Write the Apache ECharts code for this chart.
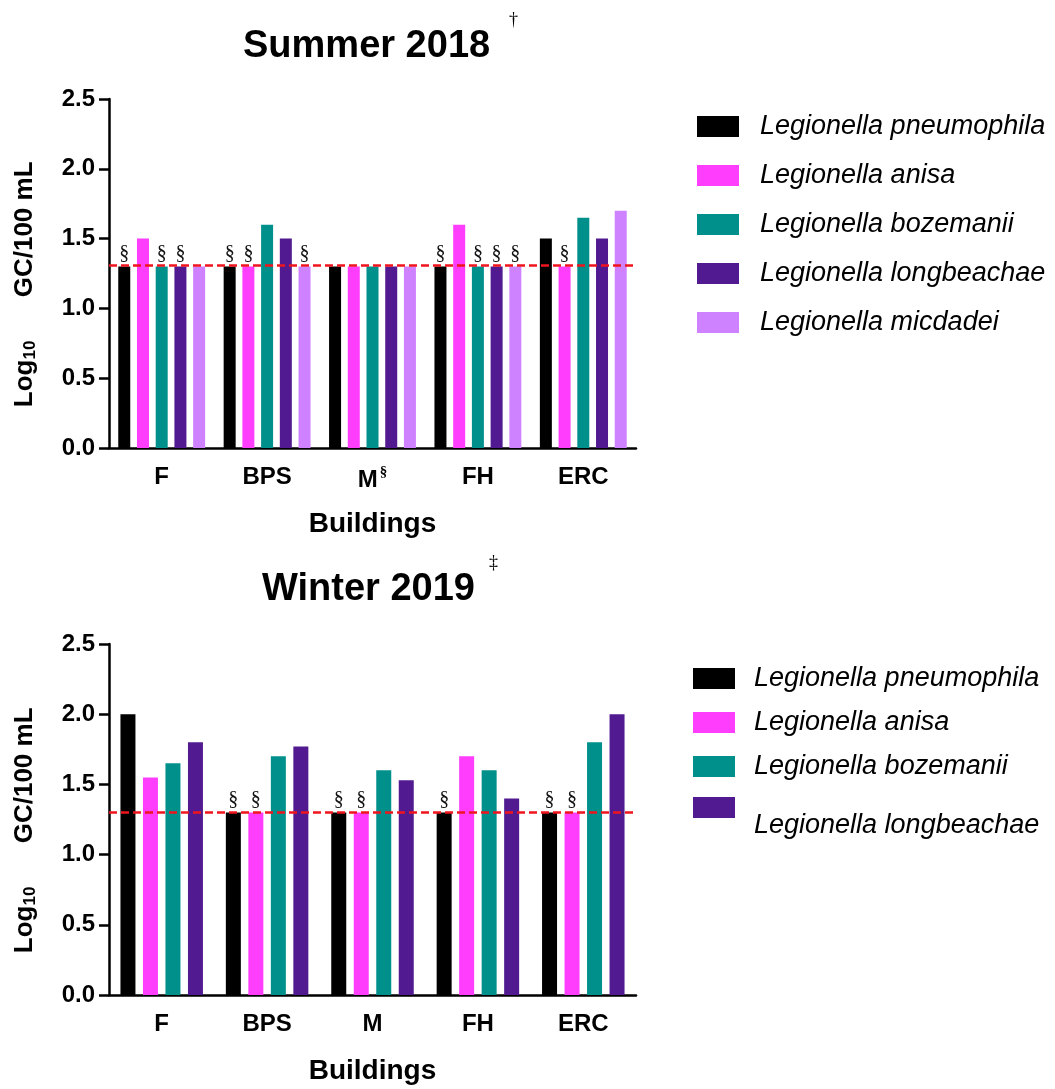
<!DOCTYPE html>
<html>
<head>
<meta charset="utf-8">
<script src="https://cdn.jsdelivr.net/npm/echarts@6/dist/echarts.min.js"></script>
<style>
html,body{margin:0;padding:0;background:#fff;}
#c{width:1055px;height:1089px;}
</style>
</head>
<body>
<div id="c"></div>
<script>
// ---- data ----
const buildings = ['F', 'BPS', 'M', 'FH', 'ERC'];
const summerCatMarks = ['', '', '§', '', ''];
const winterCatMarks = ['', '', '', '', ''];
const speciesNames = ['Legionella pneumophila', 'Legionella anisa', 'Legionella bozemanii', 'Legionella longbeachae', 'Legionella micdadei'];
const yTicks = [0, 0.5, 1.0, 1.5, 2.0, 2.5];

// Summer 2018 (Log10 GC/100 mL)
const summerPneumophila = [1.3, 1.3, 1.3, 1.3, 1.5];
const summerAnisa       = [1.5, 1.3, 1.3, 1.6, 1.3];
const summerBozemanii   = [1.3, 1.6, 1.3, 1.3, 1.65];
const summerLongbeachae = [1.3, 1.5, 1.3, 1.3, 1.5];
const summerMicdadei    = [1.3, 1.3, 1.3, 1.3, 1.7];
// § flags (below detection limit)
const summerPneumophilaND = [1, 1, 0, 1, 0];
const summerAnisaND       = [0, 1, 0, 0, 1];
const summerBozemaniiND   = [1, 0, 0, 1, 0];
const summerLongbeachaeND = [1, 0, 0, 1, 0];
const summerMicdadeiND    = [0, 1, 0, 1, 0];

// Winter 2019
const winterPneumophila = [2.0, 1.3, 1.3, 1.3, 1.3];
const winterAnisa       = [1.55, 1.3, 1.3, 1.7, 1.3];
const winterBozemanii   = [1.65, 1.7, 1.6, 1.6, 1.8];
const winterLongbeachae = [1.8, 1.77, 1.53, 1.4, 2.0];
const winterPneumophilaND = [0, 1, 1, 1, 1];
const winterAnisaND       = [0, 1, 1, 0, 1];
const winterBozemaniiND   = [0, 0, 0, 0, 0];
const winterLongbeachaeND = [0, 0, 0, 0, 0];

const summerLimit = 1.31;
const winterLimit = 1.3;

// ---- style ----
const colors = ['#000000', '#ff3dfc', '#00908c', '#521a90', '#cf82ff'];
const FONT = '"Liberation Sans", Arial, sans-serif';
const SERIF = '"Liberation Serif", "DejaVu Serif", serif';

function makeSeries(name, values, flags, color, gridIdx, barWidth, barGap, limit) {
  const s = {
    name: name,
    type: 'bar',
    xAxisIndex: gridIdx,
    yAxisIndex: gridIdx,
    data: values,
    barWidth: barWidth,
    barGap: barGap,
    itemStyle: { color: color },
    label: {
      show: true,
      position: 'top',
      distance: 3,
      fontFamily: SERIF,
      fontSize: 20,
      color: '#111',
      formatter: p => flags[p.dataIndex] ? '§' : ''
    },
    emphasis: { disabled: true }
  };
  if (limit !== undefined) {
    s.markLine = {
      silent: true,
      symbol: ['none', 'none'],
      label: { show: false },
      lineStyle: { color: '#f0141e', width: 2.5, type: [8, 4] },
      data: [{ yAxis: limit }],
      z: 10
    };
  }
  return s;
}

function xAxisDef(gridIdx, marks) {
  return {
    type: 'category',
    gridIndex: gridIdx,
    data: buildings,
    axisLine: { lineStyle: { color: '#000', width: 2.5 } },
    axisTick: { alignWithLabel: true, length: 10, lineStyle: { color: '#000', width: 2.5 } },
    axisLabel: {
      interval: 0,
      hideOverlap: false,
      margin: 17,
      fontFamily: FONT, fontSize: 24, fontWeight: 'bold', color: '#000',
      formatter: (v, i) => v + (marks[i] ? '{sup|' + marks[i] + '}' : ''),
      rich: { sup: { fontFamily: SERIF, fontSize: 15, color: '#000', verticalAlign: 'top', padding: [0, 0, 16, 2] } }
    },
    name: 'Buildings',
    nameLocation: 'middle',
    nameGap: 62,
    nameTextStyle: { fontFamily: FONT, fontSize: 28, fontWeight: 'bold', color: '#000' }
  };
}

function yAxisDef(gridIdx) {
  return {
    type: 'value',
    gridIndex: gridIdx,
    min: 0, max: 2.5, interval: 0.5,
    axisLine: { show: true, lineStyle: { color: '#000', width: 2.5 } },
    axisTick: { show: true, length: 10, lineStyle: { color: '#000', width: 2.5 } },
    splitLine: { show: false },
    axisLabel: {
      margin: 14,
      fontFamily: FONT, fontSize: 24, fontWeight: 'bold', color: '#000',
      formatter: v => yTicks.includes(v) ? v.toFixed(1) : ''
    },
    name: '{a|Log}{s|10}{a|      GC/100 mL   }',
    nameLocation: 'middle',
    nameRotate: 90,
    nameGap: 70,
    nameTextStyle: {
      rich: {
        a: { fontFamily: FONT, fontSize: 26, fontWeight: 'bold', color: '#000' },
        s: { fontFamily: FONT, fontSize: 17, fontWeight: 'bold', color: '#000', verticalAlign: 'bottom', padding: [12, 0, 0, 0] }
      }
    }
  };
}

const legendText = { fontFamily: FONT, fontSize: 27, fontStyle: 'italic', color: '#000', padding: [0, 0, 0, 16] };
const legendText2 = { fontFamily: FONT, fontSize: 27, fontStyle: 'italic', color: '#000', padding: [0, 0, 0, 14] };

const option = {
  animation: false,
  backgroundColor: '#fff',
  grid: [
    { left: 109, top: 99, width: 527, height: 349 },
    { left: 109, top: 644, width: 527, height: 351 }
  ],
  xAxis: [xAxisDef(0, summerCatMarks), xAxisDef(1, winterCatMarks)],
  yAxis: [yAxisDef(0), yAxisDef(1)],
  legend: [
    {
      orient: 'vertical', left: 692, top: 108,
      itemWidth: 42, itemHeight: 21, itemGap: 22,
      icon: 'rect',
      selectedMode: false,
      data: speciesNames,
      textStyle: legendText
    },
    {
      orient: 'vertical', left: 688, top: 660,
      itemWidth: 42, itemHeight: 21, itemGap: 17,
      icon: 'rect',
      selectedMode: false,
      data: speciesNames.slice(0, 3),
      textStyle: legendText2
    },
    {
      orient: 'vertical', left: 688, top: 771,
      itemWidth: 42, itemHeight: 21,
      icon: 'rect',
      selectedMode: false,
      data: [speciesNames[3]],
      formatter: n => '{t|' + n + '}',
      textStyle: {
        fontFamily: FONT, fontSize: 27, fontStyle: 'italic', color: '#000',
        rich: { t: { fontFamily: FONT, fontSize: 27, fontStyle: 'italic', color: '#000', lineHeight: 30, padding: [36, 0, 0, 14] } }
      }
    }
  ],
  graphic: [
    { type: 'text', style: { text: 'Summer 2018', font: 'bold 38px ' + FONT, fill: '#000' }, left: 243, top: 28 },
    { type: 'text', style: { text: '†', font: '18px ' + SERIF, fill: '#000' }, left: 509, top: 11 },
    { type: 'text', style: { text: 'Winter 2019', font: 'bold 38px ' + FONT, fill: '#000' }, left: 262, top: 571 },
    { type: 'text', style: { text: '‡', font: '18px ' + SERIF, fill: '#000' }, left: 489, top: 554 }
  ],
  series: [
    makeSeries(speciesNames[0], summerPneumophila, summerPneumophilaND, colors[0], 0, 12, '56%', summerLimit),
    makeSeries(speciesNames[1], summerAnisa, summerAnisaND, colors[1], 0, 12, '56%'),
    makeSeries(speciesNames[2], summerBozemanii, summerBozemaniiND, colors[2], 0, 12, '56%'),
    makeSeries(speciesNames[3], summerLongbeachae, summerLongbeachaeND, colors[3], 0, 12, '56%'),
    makeSeries(speciesNames[4], summerMicdadei, summerMicdadeiND, colors[4], 0, 12, '56%'),
    makeSeries(speciesNames[0], winterPneumophila, winterPneumophilaND, colors[0], 1, 15, '50%', winterLimit),
    makeSeries(speciesNames[1], winterAnisa, winterAnisaND, colors[1], 1, 15, '50%'),
    makeSeries(speciesNames[2], winterBozemanii, winterBozemaniiND, colors[2], 1, 15, '50%'),
    makeSeries(speciesNames[3], winterLongbeachae, winterLongbeachaeND, colors[3], 1, 15, '50%')
  ]
};

const chart = echarts.init(document.getElementById('c'), null, { renderer: 'canvas' });
chart.setOption(option);
</script>
</body>
</html>
